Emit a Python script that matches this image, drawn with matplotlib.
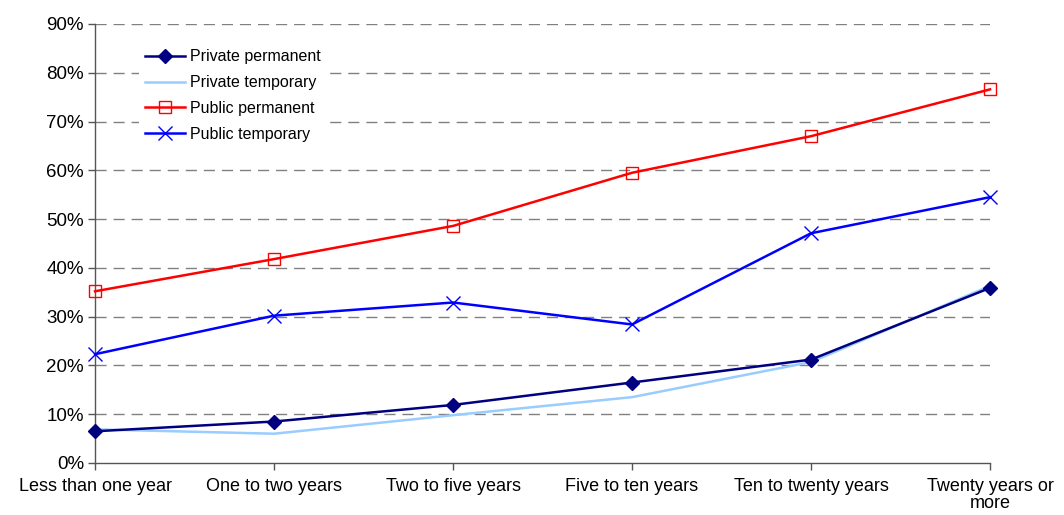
import matplotlib
matplotlib.use("Agg")
import matplotlib.pyplot as plt
from matplotlib.ticker import FuncFormatter

categories = ["Less than one year", "One to two years", "Two to five years",
              "Five to ten years", "Ten to twenty years", "Twenty years or\nmore"]
private_permanent = [6.5, 8.5, 11.9, 16.5, 21.2, 35.9]
private_temporary = [6.9, 6.0, 9.8, 13.5, 20.7, 36.3]
public_permanent = [35.2, 41.8, 48.6, 59.5, 67.0, 76.6]
public_temporary = [22.3, 30.2, 32.9, 28.4, 47.1, 54.5]
yticks = [0, 10, 20, 30, 40, 50, 60, 70, 80, 90]

plt.rcParams['font.family'] = ['Liberation Sans', 'DejaVu Sans']

fig = plt.figure(figsize=(10.64, 5.15), dpi=100)
ax = fig.add_axes([0.0893, 0.101, 0.9305 - 0.0893, 0.9534 - 0.101])

x = list(range(len(categories)))
ax.plot(x, private_permanent, color="#000080", lw=1.8, marker="D", ms=7,
        mfc="#000080", mec="#000080", label="Private permanent", zorder=4,
        clip_on=False)
ax.plot(x, private_temporary, color="#99ccff", lw=1.8,
        label="Private temporary", zorder=3, clip_on=False)
ax.plot(x, public_permanent, color="#ff0000", lw=1.8, marker="s", ms=8,
        mfc="none", mec="#ff0000", mew=1.0, label="Public permanent", zorder=3,
        clip_on=False)
ax.plot(x, public_temporary, color="#0000ff", lw=1.8, marker="x", ms=10,
        mec="#0000ff", mew=1.0, label="Public temporary", zorder=3,
        clip_on=False)

ax.set_xlim(0, len(categories) - 1)
ax.set_ylim(0, 90)
ax.set_yticks(yticks)
ax.yaxis.set_major_formatter(FuncFormatter(lambda v, p: f"{int(v)}%"))
ax.set_xticks(x)
ax.set_xticklabels(categories, fontsize=13, linespacing=1.0)
ax.tick_params(axis="y", labelsize=13.5, length=5, width=1, color="#555555", pad=3)
ax.tick_params(axis="x", length=5, width=1, color="#555555", pad=6)

for s in ["top", "right"]:
    ax.spines[s].set_visible(False)
for s in ["left", "bottom"]:
    ax.spines[s].set_color("#555555")
    ax.spines[s].set_linewidth(1)

for v in yticks[1:]:
    ax.axhline(v, color="#808080", lw=1, ls=(0, (8, 5)), zorder=1)

leg = ax.legend(loc="upper left", bbox_to_anchor=(0.04, 0.975), fontsize=11.5,
                frameon=True, fancybox=False, edgecolor="none", facecolor="white",
                framealpha=1, handlelength=2.5, handletextpad=0.3,
                labelspacing=0.68, borderpad=0.4)

fig.savefig("out.png", dpi=100)
